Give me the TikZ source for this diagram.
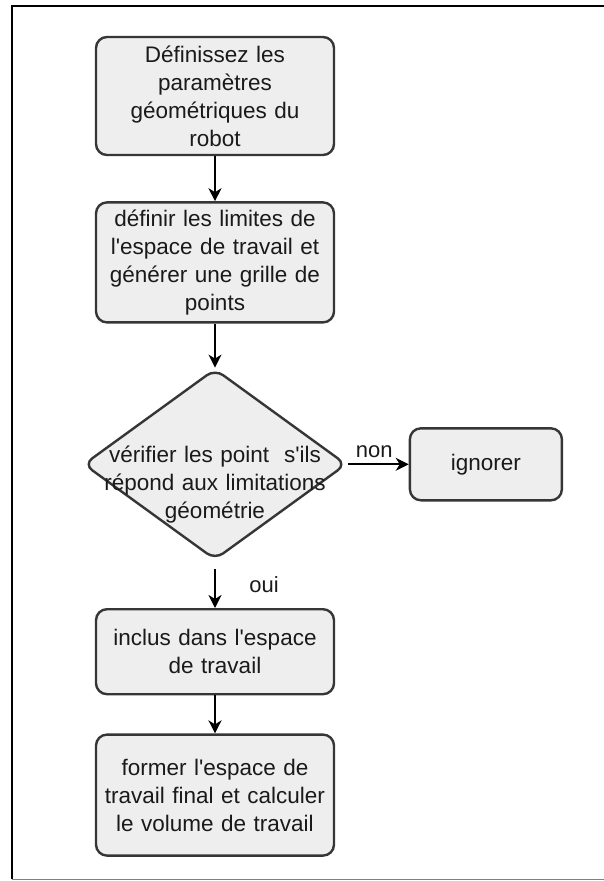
\documentclass[tikz,border=0pt]{standalone}
\usepackage{fontspec}
\setmainfont{Liberation Sans}
\usetikzlibrary{shapes.geometric, positioning, arrows.meta}
\definecolor{boxfill}{HTML}{EEEEEE}
\definecolor{boxline}{HTML}{363636}
\definecolor{txtdark}{HTML}{1A1A1A}
\newcommand{\qs}{\textquotesingle}

\begin{document}
\begin{tikzpicture}[
    x=1pt, y=-1pt,
    node distance=45pt,
    box/.style={rectangle, draw=boxline, fill=boxfill, rounded corners=11pt,
                minimum width=238pt, text width=234pt, inner sep=0pt,
                align=center, text=txtdark,
                font=\fontsize{22.5}{28}\selectfont, line width=2.4pt},
    decision/.style={diamond, draw=boxline, fill=boxfill, rounded corners=10pt,
                minimum width=263pt, minimum height=191pt, inner sep=0pt,
                line width=2.4pt},
    lbl/.style={font=\fontsize{22}{26}\selectfont, text=txtdark},
    arr/.style={-{Stealth[length=13pt, width=13pt, inset=4pt]}, draw=black, line width=2pt},
    frame/.style={draw=black, line width=2.6pt}
]
\useasboundingbox (0,0) rectangle (604,881);

% outer frame
\draw[frame] (12,879) -- (12,6) -- (604,6);
\draw[draw=gray, line width=1.6pt] (12,879.5) -- (604,879.5);

\node[box, minimum height=118pt] (params) at (215,96)
    {Définissez les\\paramètres\\géométriques du\\robot};
\node[box, minimum height=120pt, below=of params] (grille)
    {définir les limites de\\l\qs espace de travail et\\générer une grille de\\points};
\node[decision, below=44pt of grille] (verif) {};
\node[box, align=center, draw=none, fill=none, text width=230pt] (veriftxt)
    at ([yshift=-20pt]verif.center)
    {vérifier les point \ s\qs ils\\répond aux limitations\\géométrie};
\node[box, minimum width=152pt, text width=146pt, minimum height=72pt,
      right=61pt of verif] (ignore) {ignorer};
\node[box, minimum height=85pt, below=47pt of verif] (inclus)
    {inclus dans l\qs espace\\de travail};
\node[box, minimum height=121pt, below=38pt of inclus] (final)
    {former l\qs espace de\\travail final et calculer\\le volume de travail};

\draw[arr] (params) -- (grille);
\draw[arr] (grille) -- (verif);
\draw[arr] (verif) -- node[lbl, above=2pt, xshift=-4pt] {non} (ignore);
\draw[arr] ([yshift=-8pt]verif.south) -- node[lbl, right=30pt, yshift=4pt] {oui} (inclus);
\draw[arr] (inclus) -- (final);
\end{tikzpicture}
\end{document}
